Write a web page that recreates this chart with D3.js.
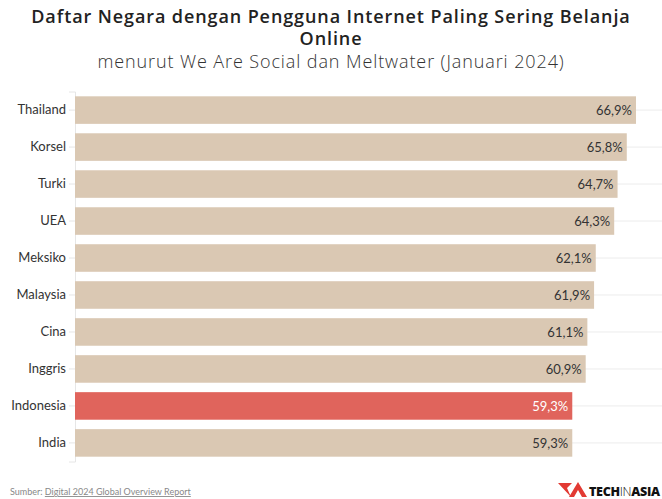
<!DOCTYPE html>
<html>
<head>
<meta charset="utf-8">
<script src="https://cdn.jsdelivr.net/npm/d3@7"></script>
<style>
  body { margin: 0; background: #fff; }
  svg { display: block; }
</style>
</head>
<body>
<div id="chart"></div>
<script>
// data
const countries = ['Thailand', 'Korsel', 'Turki', 'UEA', 'Meksiko', 'Malaysia', 'Cina', 'Inggris', 'Indonesia', 'India'];
const shares = [66.9, 65.8, 64.7, 64.3, 62.1, 61.9, 61.1, 60.9, 59.3, 59.3];
const highlight = 'Indonesia';

const width = 662, height = 499;
const margin = { top: 91.5, right: 0, bottom: 37.5, left: 75 };

const svg = d3.select('#chart')
  .append('svg')
  .attr('width', width)
  .attr('height', height);

const rows = countries.map((c, i) => ({ country: c, value: shares[i] }));

const x = d3.scaleLinear()
  .domain([0, 70])
  .range([margin.left, width - margin.right]);

const y = d3.scaleBand()
  .domain(countries)
  .range([margin.top, height - margin.bottom])
  .paddingInner(0.255)
  .paddingOuter(0.13);

// faint horizontal lines through each category
svg.append('g')
  .selectAll('line')
  .data(rows)
  .join('line')
  .attr('x1', x(0))
  .attr('x2', width)
  .attr('y1', d => y(d.country) + y.bandwidth() / 2)
  .attr('y2', d => y(d.country) + y.bandwidth() / 2)
  .attr('stroke', '#ececec')
  .attr('stroke-width', 1);

// left axis
const yAxis = svg.append('g')
  .attr('transform', `translate(${x(0)},0)`)
  .call(d3.axisLeft(y).tickSize(6).tickPadding(3));
yAxis.select('.domain').attr('stroke', '#e6e6e6');
yAxis.selectAll('.tick line').attr('stroke', '#e6e6e6');
yAxis.selectAll('.tick text')
  .attr('fill', '#333')
  .style('font-family', 'Lato, sans-serif')
  .style('font-size', '13px');

// bars
svg.append('g')
  .selectAll('rect')
  .data(rows)
  .join('rect')
  .attr('x', x(0))
  .attr('y', d => y(d.country))
  .attr('width', d => x(d.value) - x(0))
  .attr('height', y.bandwidth())
  .attr('fill', d => d.country === highlight ? '#e0645c' : '#dac8b3');

// value labels
svg.append('g')
  .selectAll('text')
  .data(rows)
  .join('text')
  .attr('x', d => x(d.value) - 4)
  .attr('y', d => y(d.country) + y.bandwidth() / 2)
  .attr('dy', '0.36em')
  .attr('text-anchor', 'end')
  .attr('fill', d => d.country === highlight ? '#fff' : '#333')
  .style('font-family', 'Lato, sans-serif')
  .style('font-size', '13px')
  .text(d => d3.format('.1f')(d.value).replace('.', ',') + '%');

// title block
const title = svg.append('g')
  .attr('text-anchor', 'middle')
  .style('font-family', '"Open Sans", sans-serif');
title.append('text')
  .attr('x', 331).attr('y', 23)
  .attr('font-weight', 600)
  .attr('font-size', 18)
  .attr('letter-spacing', 0.9)
  .attr('fill', '#222')
  .text('Daftar Negara dengan Pengguna Internet Paling Sering Belanja');
title.append('text')
  .attr('x', 331).attr('y', 45)
  .attr('font-weight', 600)
  .attr('font-size', 18)
  .attr('letter-spacing', 0.9)
  .attr('fill', '#222')
  .text('Online');
title.append('text')
  .attr('x', 331).attr('y', 68)
  .attr('font-weight', 300)
  .attr('font-size', 18)
  .attr('letter-spacing', 0.9)
  .attr('fill', '#333')
  .text('menurut We Are Social dan Meltwater (Januari 2024)');

// source
const src = svg.append('text')
  .attr('x', 10).attr('y', 495)
  .style('font-family', 'Lato, sans-serif')
  .style('font-size', '9px')
  .attr('fill', '#888');
src.append('tspan').text('Sumber: ');
src.append('tspan').attr('text-decoration', 'underline').text('Digital 2024 Global Overview Report');

// logo
const logo = svg.append('g').attr('transform', 'translate(558,482)');
logo.append('path')
  .attr('d', 'M0,1 L14,1 L9,6 L13,15 Z')
  .attr('fill', '#e23a33');
logo.append('path')
  .attr('d', 'M11,15 L20,0 L29,15 L24,15 L20,8 L16,15 Z')
  .attr('fill', '#e23a33');
const lt = logo.append('text')
  .attr('x', 31).attr('y', 14)
  .style('font-family', '"Open Sans", sans-serif')
  .style('font-size', '12.5px')
  .attr('letter-spacing', -0.3)
  .attr('fill', '#111');
lt.append('tspan').attr('font-weight', 800).text('TECH');
lt.append('tspan').attr('font-weight', 300).text('IN');
lt.append('tspan').attr('font-weight', 800).text('ASIA');
</script>
</body>
</html>
